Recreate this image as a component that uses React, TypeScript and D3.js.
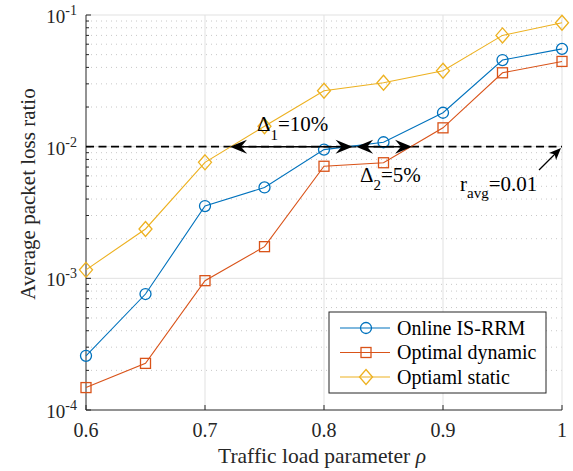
import React from "react";
import * as d3 from "d3";

const rho = [0.6, 0.65, 0.7, 0.75, 0.8, 0.85, 0.9, 0.95, 1.0];
const onlineISRRM = [2.58e-4, 7.6e-4, 3.54e-3, 4.9e-3, 9.5e-3, 1.08e-2, 1.81e-2, 4.55e-2, 5.53e-2];
const optimalDynamic = [1.48e-4, 2.26e-4, 9.6e-4, 1.74e-3, 7.1e-3, 7.55e-3, 1.39e-2, 3.64e-2, 4.44e-2];
const optimalStatic = [1.16e-3, 2.37e-3, 7.6e-3, 1.43e-2, 2.66e-2, 3.06e-2, 3.77e-2, 7.0e-2, 8.73e-2];
const seriesNames = ["Online IS-RRM", "Optimal dynamic", "Optiaml static"];
const xTicks = [0.6, 0.7, 0.8, 0.9, 1];
const xTickLabels = ["0.6", "0.7", "0.8", "0.9", "1"];
const yDecades = [-4, -3, -2, -1];
const rAvg = 0.01;
const delta1 = [0.721, 0.824];
const delta2 = [0.827, 0.874];

const W = 573, H = 471;
const L = 86, R = 562, T = 15, B = 410;
const FONT = "Liberation Serif";
const colors = ["#0072BD", "#D95319", "#EDB120"];
const markers = ["circle", "square", "diamond"];

function Marker({ type, x, y, color }: { type: string; x: number; y: number; color: string }) {
  if (type === "circle") return <circle cx={x} cy={y} r={5.5} fill="none" stroke={color} strokeWidth={1.3} />;
  if (type === "square") return <rect x={x - 5} y={y - 5} width={10} height={10} fill="none" stroke={color} strokeWidth={1.3} />;
  return <path d={`M${x},${y - 7.5}L${x + 6.5},${y}L${x},${y + 7.5}L${x - 6.5},${y}Z`} fill="none" stroke={color} strokeWidth={1.3} />;
}

function Txt(props: any) {
  const { children, style, ...rest } = props;
  return (
    <text {...rest} fontFamily={FONT} style={{ fontFamily: "'Liberation Serif', 'Times New Roman', serif", ...(style || {}) }}>
      {children}
    </text>
  );
}

export default function App() {
  const x = d3.scaleLinear().domain([0.6, 1]).range([L, R]);
  const y = d3.scaleLog().domain([1e-4, 1e-1]).range([B, T]);
  const line = d3.line<number>().x((_, i) => x(rho[i])).y((d) => y(d));
  const series = [onlineISRRM, optimalDynamic, optimalStatic];

  const minor: number[] = [];
  yDecades.slice(0, 3).forEach((e) => {
    for (let k = 2; k <= 9; k++) minor.push(k * Math.pow(10, e));
  });

  const yr = y(rAvg);
  const head = (tipX: number, tipY: number, dir: number, len = 17, hw = 7, notch = 6) => {
    const bx = tipX - dir * len;
    return `M${tipX},${tipY}L${bx},${tipY - hw}L${bx + dir * notch},${tipY}L${bx},${tipY + hw}Z`;
  };

  return (
    <svg width={W} height={H} style={{ position: "absolute", left: 0, top: 0, background: "#fff", fontFamily: "'Liberation Serif', serif" }}>
      <style>{"text, tspan { font-family: 'Liberation Serif', 'Times New Roman', serif; }"}</style>
      <rect x={0} y={0} width={W} height={H} fill="#fff" />
      {minor.map((v) => (
        <line key={"mg" + v} x1={L} x2={R} y1={y(v)} y2={y(v)} stroke="#c8c8c8" strokeWidth={1} strokeDasharray="1,4" />
      ))}
      {yDecades.slice(1).map((e) => (
        <line key={"yg" + e} x1={L} x2={R} y1={y(Math.pow(10, e))} y2={y(Math.pow(10, e))} stroke="#e1e1e1" strokeWidth={1} />
      ))}
      {xTicks.slice(1).map((t) => (
        <line key={"xg" + t} x1={x(t)} x2={x(t)} y1={T} y2={B} stroke="#e1e1e1" strokeWidth={1} />
      ))}
      <line x1={L} x2={L} y1={T} y2={B} stroke="#262626" strokeWidth={1} />
      <line x1={L} x2={R} y1={B} y2={B} stroke="#262626" strokeWidth={1} />
      {xTicks.map((t) => (
        <line key={"xt" + t} x1={x(t)} x2={x(t)} y1={B} y2={B - 5} stroke="#262626" />
      ))}
      {yDecades.map((e) => (
        <line key={"yt" + e} x1={L} x2={L + 5} y1={y(Math.pow(10, e))} y2={y(Math.pow(10, e))} stroke="#262626" />
      ))}
      {minor.map((v) => (
        <line key={"ymt" + v} x1={L} x2={L + 3} y1={y(v)} y2={y(v)} stroke="#262626" />
      ))}
      {xTicks.map((t, i) => (
        <Txt key={"xl" + t} x={x(t)} y={B + 27} textAnchor="middle" fontSize={20} fill="#262626">
          {xTickLabels[i]}
        </Txt>
      ))}
      {yDecades.map((e) => (
        <Txt key={"yl" + e} x={L - 9} y={y(Math.pow(10, e)) + 8} textAnchor="end" fontSize={19} fill="#262626">
          10<tspan fontSize={14} dy={-8}>{e}</tspan>
        </Txt>
      ))}
      <Txt x={322} y={463} textAnchor="middle" fontSize={21.5} fill="#262626">
        Traffic load parameter <tspan fontStyle="italic">ρ</tspan>
      </Txt>
      <Txt transform={`translate(35,194) rotate(-90)`} textAnchor="middle" fontSize={21} fill="#262626">
        Average packet loss ratio
      </Txt>
      <line x1={L} x2={R} y1={yr} y2={yr} stroke="#000" strokeWidth={1.8} strokeDasharray="8,4.5" />
      {series.map((s, si) => (
        <g key={"s" + si}>
          <path d={line(s) || ""} fill="none" stroke={colors[si]} strokeWidth={1.1} />
          {s.map((v, i) => (
            <Marker key={i} type={markers[si]} x={x(rho[i])} y={y(v)} color={colors[si]} />
          ))}
        </g>
      ))}
      {[delta1, delta2].map((d, k) => (
        <g key={"da" + k}>
          <line x1={x(d[0]) + 8} x2={x(d[1]) - 8} y1={yr} y2={yr} stroke="#000" strokeWidth={1.5} />
          <path d={head(x(d[0]), yr, -1)} fill="#000" />
          <path d={head(x(d[1]), yr, 1)} fill="#000" />
        </g>
      ))}
      <Txt x={257} y={131} fontSize={21} fill="#000">
        Δ<tspan fontSize={15} dy={9}>1</tspan><tspan dy={-9}>=10%</tspan>
      </Txt>
      <Txt x={360} y={182} fontSize={21} fill="#000">
        Δ<tspan fontSize={15} dy={8}>2</tspan><tspan dy={-8}>=5%</tspan>
      </Txt>
      <Txt x={460} y={191} fontSize={21} fill="#000">
        r<tspan fontSize={15} dy={7}>avg</tspan><tspan dy={-7}>=0.01</tspan>
      </Txt>
      <line x1={539} y1={170} x2={556} y2={153} stroke="#000" strokeWidth={1.2} />
      <path d={(() => {
        const tx = 561, ty = 148;
        const ang = Math.atan2(ty - 170, tx - 539);
        const len = 12, hw = 5, notch = 3;
        const ux = Math.cos(ang), uy = Math.sin(ang);
        const px = -uy, py = ux;
        const bx = tx - ux * len, by = ty - uy * len;
        return `M${tx},${ty}L${bx + px * hw},${by + py * hw}L${tx - ux * (len - notch)},${ty - uy * (len - notch)}L${bx - px * hw},${by - py * hw}Z`;
      })()} fill="#000" />
      <g>
        <rect x={329} y={312} width={217} height={81} fill="#fff" stroke="#262626" strokeWidth={1} />
        {seriesNames.map((n, i) => {
          const ly = 328 + i * 24.5;
          return (
            <g key={"lg" + i}>
              <line x1={340} x2={390} y1={ly} y2={ly} stroke={colors[i]} strokeWidth={1.1} />
              <Marker type={markers[i]} x={366} y={ly} color={colors[i]} />
              <Txt x={397} y={ly + 6.5} fontSize={20} fill="#000">{n}</Txt>
            </g>
          );
        })}
      </g>
    </svg>
  );
}
